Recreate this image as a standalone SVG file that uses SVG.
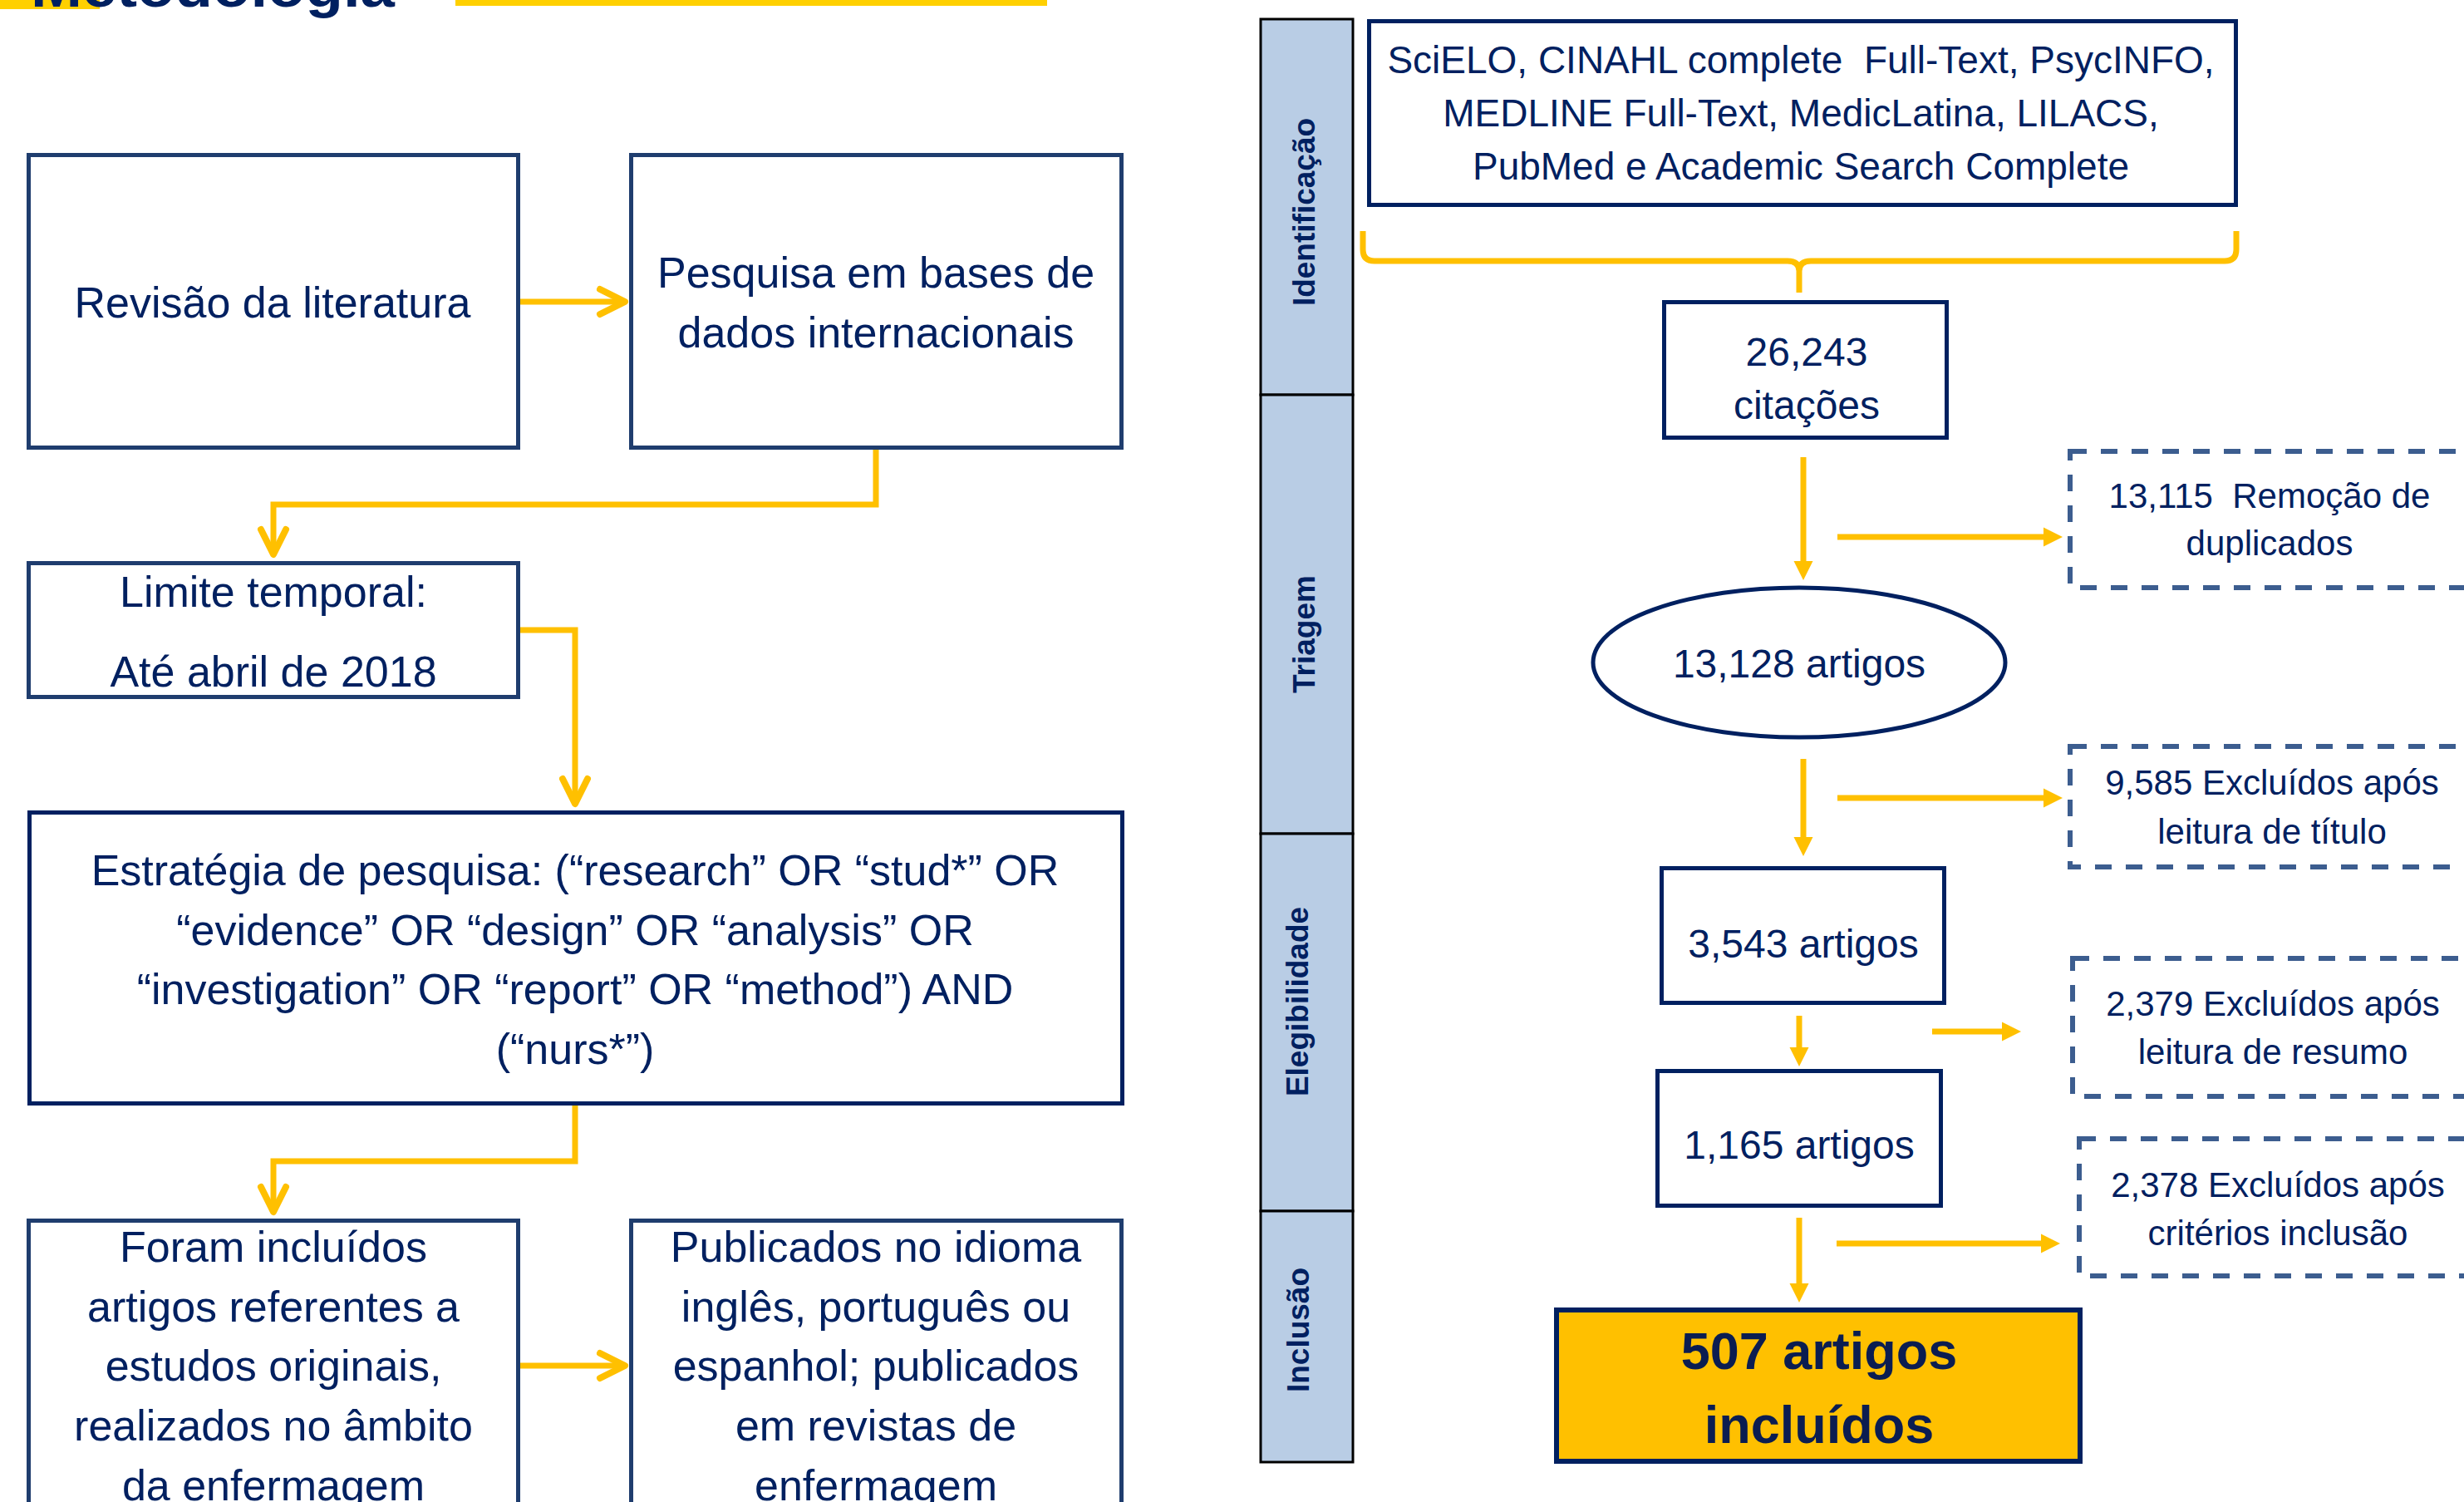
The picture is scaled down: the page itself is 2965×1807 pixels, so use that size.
<svg xmlns="http://www.w3.org/2000/svg" width="2965" height="1807" viewBox="0 0 2965 1807">
<style>
.t{font-family:"Liberation Sans",Arial,sans-serif;fill:#002060;text-anchor:middle}
.l{font-size:52px}
.r{font-size:48px}
.s{font-size:46px}
.d{font-size:42px}
.band{font-size:37px;font-weight:bold}
.big{font-size:63px;font-weight:bold;fill:#0B1D51}
.box{fill:#fff;stroke:#1F3D6E;stroke-width:5}
.nbox{fill:#fff;stroke:#002060;stroke-width:5}
.dash{fill:#fff;stroke:#3C5D8F;stroke-width:6;stroke-dasharray:20 17}
.lane{fill:#B9CDE5;stroke:#000;stroke-width:3}
.conn{fill:none;stroke:#FFC000;stroke-width:7}
</style>
<defs>
<marker id="chev" markerUnits="userSpaceOnUse" markerWidth="40" markerHeight="40" refX="-5" refY="0" orient="auto" overflow="visible">
<path d="M-30,-15 L0,0 L-30,15" fill="none" stroke="#FFC000" stroke-width="8" stroke-linecap="round" stroke-linejoin="round"/>
</marker>
<marker id="tri" markerUnits="userSpaceOnUse" markerWidth="30" markerHeight="30" refX="-10" refY="0" orient="auto" overflow="visible">
<path d="M-23,-11.5 L0,0 L-23,11.5 Z" fill="#FFC000"/>
</marker>
</defs>
<rect width="2965" height="1807" fill="#fff"/>

<g id="title">
<rect x="0" y="0" width="120" height="11" fill="#FFD000"/>
<rect x="548" y="0" width="712" height="7" fill="#FFD000"/>
<text x="37" y="8" font-family="Liberation Sans,Arial,sans-serif" font-weight="bold" font-size="68" fill="#002060" textLength="438" lengthAdjust="spacingAndGlyphs">Metodologia</text>
</g>

<g id="connectors">
<path class="conn" d="M626,363 L747,363" marker-end="url(#chev)"/>
<path class="conn" d="M1054,541 L1054,607 L329,607 L329,662" marker-end="url(#chev)"/>
<path class="conn" d="M626,758 L692,758 L692,962" marker-end="url(#chev)"/>
<path class="conn" d="M692,1330 L692,1397 L329,1397 L329,1453" marker-end="url(#chev)"/>
<path class="conn" d="M626,1643 L747,1643" marker-end="url(#chev)"/>
<path class="conn" d="M1640,278 L1640,300 Q1640,314 1654,314 L2151,314 Q2165,314 2165,326 L2165,352 M2165,326 Q2165,314 2179,314 L2677,314 Q2691,314 2691,300 L2691,278"/>
<path class="conn" d="M2170,550 L2170,688" marker-end="url(#tri)"/>
<path class="conn" d="M2211,646 L2472,646" marker-end="url(#tri)"/>
<path class="conn" d="M2170,913 L2170,1020" marker-end="url(#tri)"/>
<path class="conn" d="M2211,960 L2472,960" marker-end="url(#tri)"/>
<path class="conn" d="M2165,1222 L2165,1273" marker-end="url(#tri)"/>
<path class="conn" d="M2325,1241 L2422,1241" marker-end="url(#tri)"/>
<path class="conn" d="M2165,1465 L2165,1557" marker-end="url(#tri)"/>
<path class="conn" d="M2210,1496 L2469,1496" marker-end="url(#tri)"/>
</g>

<g id="lanes">
<g id="lane-identificacao">
<rect class="lane" x="1517" y="23" width="111" height="452"/>
<text class="t band" transform="translate(1582,255) rotate(-90)">Identificação</text>
</g>
<g id="lane-triagem">
<rect class="lane" x="1517" y="475" width="111" height="528"/>
<text class="t band" transform="translate(1582,763) rotate(-90)">Triagem</text>
</g>
<g id="lane-elegibilidade">
<rect class="lane" x="1517" y="1003" width="111" height="454"/>
<text class="t band" transform="translate(1574,1205) rotate(-90)">Elegibilidade</text>
</g>
<g id="lane-inclusao">
<rect class="lane" x="1517" y="1457" width="111" height="302"/>
<text class="t band" transform="translate(1575,1600) rotate(-90)">Inclusão</text>
</g>
</g>

<g id="n-revisao">
<rect class="box" x="34.5" y="186.5" width="589" height="352"/>
<text class="t l" x="328" y="382">Revisão da literatura</text>
</g>
<g id="n-pesquisa">
<rect class="box" x="759.5" y="186.5" width="590" height="352"/>
<text class="t l" x="1054" y="346">Pesquisa em bases de</text>
<text class="t l" x="1054" y="418">dados internacionais</text>
</g>
<g id="n-limite">
<rect class="box" x="34.5" y="677.5" width="589" height="161"/>
<text class="t l" x="329" y="730">Limite temporal:</text>
<text class="t l" x="329" y="826">Até abril de 2018</text>
</g>
<g id="n-estrategia">
<rect class="nbox" x="35.5" y="977.5" width="1315" height="350" stroke-width="6"/>
<text class="t l" x="692" y="1065">Estratégia de pesquisa: (“research” OR “stud*” OR</text>
<text class="t l" x="692" y="1137">“evidence” OR “design” OR “analysis” OR</text>
<text class="t l" x="692" y="1208">“investigation” OR “report” OR “method”) AND</text>
<text class="t l" x="692" y="1280">(“nurs*”)</text>
</g>
<g id="n-incluidos">
<rect class="box" x="34.5" y="1468.5" width="589" height="400"/>
<text class="t l" x="329" y="1518">Foram incluídos</text>
<text class="t l" x="329" y="1590">artigos referentes a</text>
<text class="t l" x="329" y="1661">estudos originais,</text>
<text class="t l" x="329" y="1733">realizados no âmbito</text>
<text class="t l" x="329" y="1805">da enfermagem</text>
</g>
<g id="n-publicados">
<rect class="box" x="759.5" y="1468.5" width="590" height="400"/>
<text class="t l" x="1054" y="1518">Publicados no idioma</text>
<text class="t l" x="1054" y="1590">inglês, português ou</text>
<text class="t l" x="1054" y="1661">espanhol; publicados</text>
<text class="t l" x="1054" y="1733">em revistas de</text>
<text class="t l" x="1054" y="1805">enfermagem</text>
</g>

<g id="n-bases">
<rect class="nbox" x="1647.5" y="25.5" width="1043" height="221"/>
<text class="t s" x="2167" y="88" xml:space="preserve">SciELO, CINAHL complete  Full-Text, PsycINFO,</text>
<text class="t s" x="2167" y="152">MEDLINE Full-Text, MedicLatina, LILACS,</text>
<text class="t s" x="2167" y="216">PubMed e Academic Search Complete</text>
</g>
<g id="n-26243">
<rect class="nbox" x="2002.5" y="363.5" width="340" height="163"/>
<text class="t r" x="2174" y="440">26,243</text>
<text class="t r" x="2174" y="504">citações</text>
</g>
<g id="n-13128">
<ellipse cx="2165" cy="797" rx="248" ry="90" fill="#fff" stroke="#002060" stroke-width="5"/>
<text class="t r" x="2165" y="815">13,128 artigos</text>
</g>
<g id="n-3543">
<rect class="nbox" x="1999.5" y="1044.5" width="340" height="162"/>
<text class="t r" x="2170" y="1152">3,543 artigos</text>
</g>
<g id="n-1165">
<rect class="nbox" x="1994.5" y="1288.5" width="341" height="162"/>
<text class="t r" x="2165" y="1394">1,165 artigos</text>
</g>
<g id="n-507">
<rect x="1873" y="1576" width="630" height="182" fill="#FFC000" stroke="#002060" stroke-width="6"/>
<text class="t big" x="2189" y="1647">507 artigos</text>
<text class="t big" x="2189" y="1736">incluídos</text>
</g>

<g id="x-duplicados">
<rect class="dash" x="2491" y="543" width="600" height="164"/>
<text class="t d" x="2731" y="611" xml:space="preserve">13,115  Remoção de</text>
<text class="t d" x="2731" y="668">duplicados</text>
</g>
<g id="x-titulo">
<rect class="dash" x="2491" y="898" width="600" height="145"/>
<text class="t d" x="2734" y="956">9,585 Excluídos após</text>
<text class="t d" x="2734" y="1015">leitura de título</text>
</g>
<g id="x-resumo">
<rect class="dash" x="2494" y="1153" width="600" height="166"/>
<text class="t d" x="2735" y="1222">2,379 Excluídos após</text>
<text class="t d" x="2735" y="1280">leitura de resumo</text>
</g>
<g id="x-criterios">
<rect class="dash" x="2502" y="1370" width="600" height="165"/>
<text class="t d" x="2741" y="1440">2,378 Excluídos após</text>
<text class="t d" x="2741" y="1498">critérios inclusão</text>
</g>
</svg>
